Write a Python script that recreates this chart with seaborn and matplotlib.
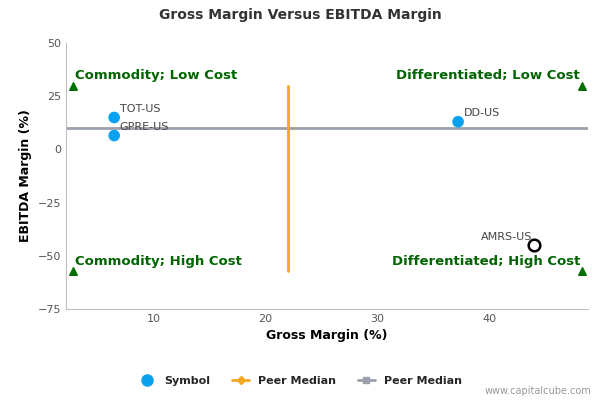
import matplotlib
matplotlib.use("Agg")
import matplotlib.pyplot as plt
import seaborn as sns
import pandas as pd
from matplotlib.lines import Line2D

symbols = ["TOT-US", "GPRE-US", "DD-US", "AMRS-US"]
gross_margin = [6.5, 6.5, 37.2, 44.0]
ebitda_margin = [15.0, 6.5, 13.0, -45.0]
peer_median_x = 22.0
peer_median_y = 10.0
quad_labels = ["Commodity; Low Cost", "Differentiated; Low Cost", "Commodity; High Cost", "Differentiated; High Cost"]
quad_x = [2.8, 48.3, 2.8, 48.3]
quad_y = [30, 30, -57, -57]

df = pd.DataFrame({"Symbol": symbols, "x": gross_margin, "y": ebitda_margin})

fig = plt.figure(figsize=(6, 4), dpi=100)
ax = fig.add_axes([0.11, 0.2275, 0.87, 0.665])
sns.set_style("white")

ax.axhline(peer_median_y, color="#9aa0ac", lw=2, zorder=1)
ax.plot([peer_median_x, peer_median_x], [-57, 30], color="#f5a623", lw=2, zorder=1)

sns.scatterplot(data=df.iloc[:3], x="x", y="y", color="#0aa2f0", s=70, edgecolor="none", ax=ax, zorder=3)
ax.scatter(df.x.iloc[3], df.y.iloc[3], s=70, facecolor="white", edgecolor="black", lw=1.8, zorder=3)
offs = [(0.5, 2.5), (0.5, 2.5), (0.5, 2.5), (-4.8, 2.5)]
for s, x, y, (dx, dy) in zip(symbols, gross_margin, ebitda_margin, offs):
    ax.text(x + dx, y + dy, s, fontsize=8, color="#444444")

ax.scatter(quad_x, quad_y, marker="^", color="#007000", s=30, zorder=3)
for lab, x, y in zip(quad_labels, quad_x, quad_y):
    ha = "left" if x < 20 else "right"
    ax.text(x + (0.2 if ha == "left" else -0.2), y + 1.5, lab, ha=ha, va="bottom",
            color="#006400", fontsize=9.5, fontweight="bold")

ax.set_xlim(2.2, 48.8)
ax.set_ylim(-75, 50)
ax.set_xticks([10, 20, 30, 40])
ax.set_yticks([-75, -50, -25, 0, 25, 50])
ax.tick_params(labelsize=8, colors="#555555", length=0)
for sp in ["top", "right"]:
    ax.spines[sp].set_visible(False)
ax.spines["left"].set_color("#c0c0c0")
ax.spines["bottom"].set_color("#c0c0c0")
ax.set_xlabel("Gross Margin (%)", fontsize=9, fontweight="bold")
ax.set_ylabel("EBITDA Margin (%)", fontsize=9, fontweight="bold")
fig.suptitle("Gross Margin Versus EBITDA Margin", y=0.98, fontsize=10, fontweight="bold", color="#333333")

handles = [
    Line2D([], [], marker="o", color="#0aa2f0", ls="none", markersize=8),
    Line2D([], [], marker="D", color="#f5a623", lw=2, markersize=4),
    Line2D([], [], marker="s", color="#9aa0ac", lw=2, markersize=5),
]
fig.legend(handles, ["Symbol", "Peer Median", "Peer Median"], loc="center", bbox_to_anchor=(0.5, 0.047),
           ncol=3, frameon=False, prop={"size": 8, "weight": "bold"}, handlelength=1.5)
fig.text(0.985, 0.015, "www.capitalcube.com", ha="right", fontsize=7, color="#999999")
fig.savefig("out.png", dpi=100)
